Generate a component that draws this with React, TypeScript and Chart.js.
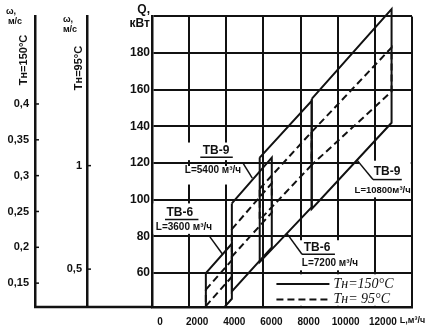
import React, { useEffect, useRef } from 'react';
import { Chart, registerables } from 'chart.js';

Chart.register(...registerables);

// ---- axes ----
const flowTicks = [0, 2000, 4000, 6000, 8000, 10000, 12000, 14000];
const heatTicks = [60, 80, 100, 120, 140, 160, 180, 200];
const speed150Ticks = [0.15, 0.2, 0.25, 0.3, 0.35, 0.4];
const speed95Ticks = [0.5, 1];

// ---- heater bands (L in m3/h, Q in kW) ----
const heaterTypes = ['ТВ-6', 'ТВ-9', 'ТВ-6', 'ТВ-9'];
const heaterFlows = ['L=3600 м³/ч', 'L=5400 м³/ч', 'L=7200 м³/ч', 'L=10800м³/ч'];
const flowMin = [2900, 4300, 5800, 8600];
const flowMax = [4300, 6450, 8600, 12900];
const q150UpperAtMin = [60, 98, 123, 155];
const q150UpperAtMax = [76, 123, 154, 204];
const q150LowerAtMin = [30, 50, 66, 95];
const q150LowerAtMax = [46, 74, 96, 142];
const q95UpperAtMin = [51, 84, 106, 137];
const q95UpperAtMax = [67, 109, 137, 183];
const q95LowerAtMin = [42, 69, 89, 119];
const q95LowerAtMax = [58, 93, 119, 159];

const legendTexts = ['Tн=150°C', 'Tн= 95°C'];

const NARROW = "'Liberation Sans Narrow', 'Liberation Sans', sans-serif";
const INK = '#111';

// annotation anchors in data units [L, Q]
const labelSpecs = [
  { title: [1500, 93], sub: [1720, 85], subSize: 10, under: [700, 2500, 89.2], boxes: [[80, 3300, 81.4, 98]], leader: [[3100, 80], [3790, 70.4]] },
  { title: [3450, 126.7], sub: [3285, 115.9], subSize: 10, under: [2600, 4350, 123.2], boxes: [[1830, 4740, 121.6, 131.2], [1510, 5150, 108.3, 118.4]], leader: [[4900, 120], [5400, 111.8]] },
  { title: [8885, 74.1], sub: [9585, 65.4], subSize: 10, under: [8078, 9850, 70.3], boxes: [[7860, 11450, 61.5, 77.9]], leader: [[7270, 81.5], [8078, 70.3]] },
  { title: [12655, 115.4], sub: [12420, 105], subSize: 9.5, under: [11900, 13450, 111], boxes: [[11150, 13930, 101.3, 121.3]], leader: [[11040, 121.6], [11900, 111]] },
];
const legendFromL = 6000;
const legendTopQ = 60;

function band(lo: number, hi: number, u0: number, u1: number, l1: number, l0: number) {
  return [
    { x: lo, y: u0 },
    { x: hi, y: u1 },
    { x: hi, y: l1 },
    { x: lo, y: l0 },
    { x: lo, y: u0 },
  ];
}

const overlay = {
  id: 'overlay',
  beforeDatasetsDraw(chart: any) {
    const ctx = chart.ctx;
    const xs = chart.scales.x;
    const ys = chart.scales.y;
    const X = (v: number) => xs.getPixelForValue(v);
    const Y = (v: number) => ys.getPixelForValue(v);
    ctx.save();
    ctx.fillStyle = '#fff';
    for (const s of labelSpecs) {
      for (const b of s.boxes) {
        ctx.fillRect(X(b[0]), Y(b[3]), X(b[1]) - X(b[0]), Y(b[2]) - Y(b[3]));
      }
    }
    const lx = X(legendFromL);
    const ly = Y(legendTopQ);
    ctx.fillRect(lx + 1.2, ly + 1.2, xs.right - lx - 2.4, ys.bottom - ly - 2.4);
    ctx.restore();
  },
  afterDatasetsDraw(chart: any) {
    const ctx = chart.ctx;
    const xs = chart.scales.x;
    const ys = chart.scales.y;
    const w150 = chart.scales.w150;
    const w95 = chart.scales.w95;
    const X = (v: number) => xs.getPixelForValue(v);
    const Y = (v: number) => ys.getPixelForValue(v);
    ctx.save();
    ctx.fillStyle = INK;
    ctx.strokeStyle = INK;
    ctx.textBaseline = 'middle';
    ctx.textAlign = 'center';

    // band labels
    labelSpecs.forEach((s, i) => {
      ctx.font = `bold 12px ${NARROW}`;
      ctx.fillText(heaterTypes[i], X(s.title[0]), Y(s.title[1]));
      ctx.font = `bold ${s.subSize}px ${NARROW}`;
      ctx.fillText(heaterFlows[i], X(s.sub[0]), Y(s.sub[1]));
      ctx.lineWidth = 1.5;
      ctx.beginPath();
      ctx.moveTo(X(s.under[0]), Y(s.under[2]));
      ctx.lineTo(X(s.under[1]), Y(s.under[2]));
      ctx.stroke();
      ctx.beginPath();
      ctx.moveTo(X(s.leader[0][0]), Y(s.leader[0][1]));
      ctx.lineTo(X(s.leader[1][0]), Y(s.leader[1][1]));
      ctx.stroke();
    });

    // legend
    const lx = X(legendFromL);
    const ly = Y(legendTopQ);
    const lh = ys.bottom - ly;
    const rows = [ly + lh * 0.32, ly + lh * 0.78];
    ctx.lineWidth = 2;
    rows.forEach((ry, k) => {
      ctx.setLineDash(k === 0 ? [] : [7, 4]);
      ctx.beginPath();
      ctx.moveTo(lx + 13, ry);
      ctx.lineTo(lx + 66, ry);
      ctx.stroke();
      ctx.setLineDash([]);
      ctx.font = "italic 14px 'Liberation Serif', serif";
      ctx.textAlign = 'left';
      ctx.fillText(legendTexts[k], lx + 70, ry);
    });

    // baseline continuation under the speed scales
    ctx.lineWidth = 2.5;
    ctx.beginPath();
    ctx.moveTo(w150.right - 1, ys.bottom);
    ctx.lineTo(xs.left, ys.bottom);
    ctx.stroke();

    // small tick marks on speed scales
    ctx.lineWidth = 1.5;
    for (const v of speed150Ticks) {
      const py = w150.getPixelForValue(v);
      ctx.beginPath(); ctx.moveTo(w150.right, py); ctx.lineTo(w150.right + 4, py); ctx.stroke();
    }
    for (const v of speed95Ticks) {
      const py = w95.getPixelForValue(v);
      ctx.beginPath(); ctx.moveTo(w95.right, py); ctx.lineTo(w95.right + 4, py); ctx.stroke();
    }

    // axis unit of L
    ctx.font = `bold 9px ${NARROW}`;
    ctx.textAlign = 'left';
    ctx.fillText('L,м³/ч', X(12000) + 25, xs.top + 14);

    // speed scale titles
    ctx.font = `bold 9px ${NARROW}`;
    ctx.textAlign = 'center';
    ctx.fillText('ω,', w150.right - 24, 12);
    ctx.fillText('м/с', w150.right - 20, 22);
    ctx.fillText('ω,', w95.right - 19, 20);
    ctx.fillText('м/с', w95.right - 17, 30);

    ctx.font = `bold 11px ${NARROW}`;
    ctx.save();
    ctx.translate(w150.right - 11, 60);
    ctx.rotate(-Math.PI / 2);
    ctx.fillText('Tн=150°C', 0, 0);
    ctx.restore();
    ctx.save();
    ctx.translate(w95.right - 8, 68);
    ctx.rotate(-Math.PI / 2);
    ctx.fillText('Tн=95°C', 0, 0);
    ctx.restore();

    ctx.restore();
  },
};

export default function App() {
  const ref = useRef<HTMLCanvasElement>(null);
  useEffect(() => {
    document.body.style.margin = '0';
    const canvas = ref.current!;
    const datasets: any[] = [];
    for (let i = 0; i < heaterTypes.length; i++) {
      datasets.push({
        label: `${heaterTypes[i]} ${heaterFlows[i]} Tн=150°C`,
        data: band(flowMin[i], flowMax[i], q150UpperAtMin[i], q150UpperAtMax[i], q150LowerAtMax[i], q150LowerAtMin[i]),
        borderColor: INK,
        borderWidth: 2,
        pointRadius: 0,
        fill: false,
        tension: 0,
        xAxisID: 'x',
        yAxisID: 'y',
        clip: { left: 0, top: false, right: 0, bottom: 0 },
      });
      datasets.push({
        label: `${heaterTypes[i]} ${heaterFlows[i]} Tн=95°C`,
        data: band(flowMin[i], flowMax[i], q95UpperAtMin[i], q95UpperAtMax[i], q95LowerAtMax[i], q95LowerAtMin[i]),
        borderColor: INK,
        borderWidth: 2,
        borderDash: [7, 4],
        pointRadius: 0,
        fill: false,
        tension: 0,
        xAxisID: 'x',
        yAxisID: 'y',
        clip: { left: 0, top: false, right: 0, bottom: 0 },
      });
    }
    const tickFont = { family: NARROW, size: 11, weight: 'bold' as const };
    const chart = new Chart(canvas, {
      type: 'line',
      data: { datasets },
      options: {
        animation: false,
        responsive: false,
        devicePixelRatio: 1,
        layout: { padding: { top: 15, right: 18, left: 0, bottom: 0 } },
        plugins: { legend: { display: false }, tooltip: { enabled: false } },
        scales: {
          x: {
            type: 'linear',
            position: 'bottom',
            min: 0,
            max: 14000,
            afterBuildTicks: (s: any) => { s.ticks = flowTicks.map((v) => ({ value: v })); },
            afterFit: (s: any) => { s.height = 29; },
            grid: { color: INK, lineWidth: 2, drawTicks: false },
            border: { color: INK, width: 2.5 },
            ticks: {
              autoSkip: false,
              maxRotation: 0,
              padding: 9,
              labelOffset: 8,
              color: INK,
              font: { family: NARROW, size: 10, weight: 'bold' },
              callback: (v: any) => (v === 14000 ? '' : String(v)),
            },
          },
          y: {
            type: 'linear',
            position: 'left',
            weight: 0,
            min: 41.5,
            max: 200,
            afterBuildTicks: (s: any) => { s.ticks = heatTicks.map((v) => ({ value: v })); },
            afterFit: (s: any) => { s.width = 65; },
            grid: { color: INK, lineWidth: 2, drawTicks: false },
            border: { color: INK, width: 2.5 },
            ticks: {
              padding: 2,
              color: INK,
              font: { family: NARROW, size: 12, weight: 'bold' },
              callback: (v: any) => (v === 200 ? ['Q,', 'кВт'] : String(v)),
            },
          },
          w95: {
            type: 'linear',
            axis: 'y',
            position: 'left',
            weight: 1,
            min: 0.317,
            max: 1.721,
            afterBuildTicks: (s: any) => { s.ticks = speed95Ticks.map((v) => ({ value: v })); },
            afterFit: (s: any) => { s.width = 52; },
            grid: { drawOnChartArea: false, drawTicks: false },
            border: { color: INK, width: 2.5 },
            ticks: { padding: 5, color: INK, font: tickFont, callback: (v: any) => String(v).replace('.', ',') },
          },
          w150: {
            type: 'linear',
            axis: 'y',
            position: 'left',
            weight: 2,
            min: 0.1167,
            max: 0.5222,
            afterBuildTicks: (s: any) => { s.ticks = speed150Ticks.map((v) => ({ value: v })); },
            afterFit: (s: any) => { s.width = 35; },
            grid: { drawOnChartArea: false, drawTicks: false },
            border: { color: INK, width: 2.5 },
            ticks: { padding: 6, color: INK, font: tickFont, callback: (v: any) => String(v).replace('.', ',') },
          },
        },
      } as any,
      plugins: [overlay],
    });
    return () => chart.destroy();
  }, []);
  return <canvas ref={ref} width={430} height={336} style={{ display: 'block' }} />;
}
